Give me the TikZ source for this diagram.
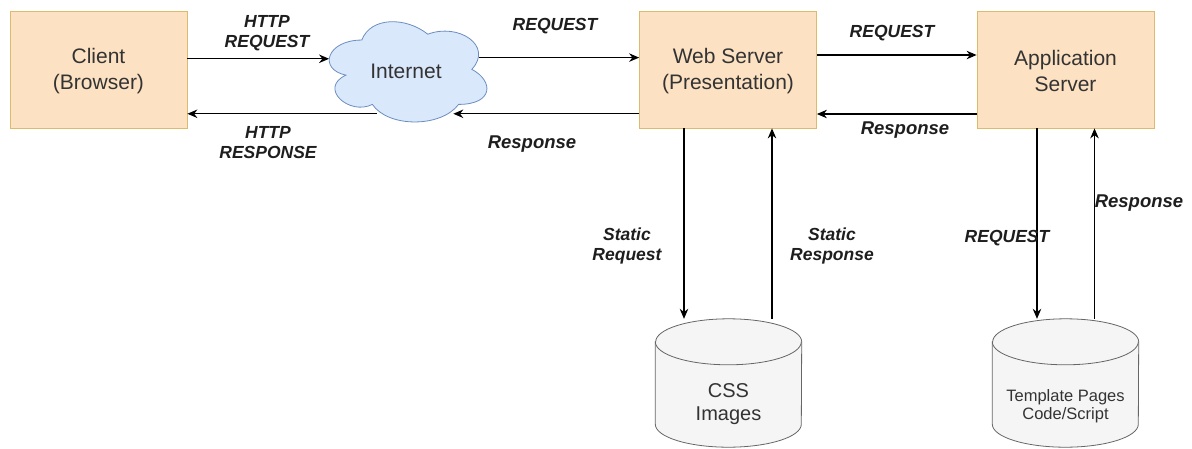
\documentclass[tikz,border=0pt]{standalone}
\usepackage{fontspec}
\setmainfont{Liberation Sans}
\usetikzlibrary{arrows.meta,backgrounds,calc}

\definecolor{boxfill}{HTML}{FCE1C2}
\definecolor{boxline}{HTML}{DDBA6C}
\definecolor{cloudfill}{HTML}{DAE8FC}
\definecolor{cloudline}{HTML}{6C8EBF}
\definecolor{dbfill}{HTML}{F5F5F5}
\definecolor{dbline}{HTML}{666666}
\definecolor{txt}{HTML}{333333}
\definecolor{labtxt}{HTML}{1E1E1E}

\tikzset{
  srv/.style={draw=boxline, fill=boxfill, line width=0.8pt,
    minimum width=177pt, minimum height=117pt, inner sep=0pt,
    align=center, text=txt, font=\fontsize{21}{26}\selectfont},
  area/.style={draw=none, minimum width=#1, minimum height=117pt, inner sep=0pt,
    align=center, text=txt, font=\fontsize{21}{26}\selectfont},
  dbnode/.style={draw=none, minimum width=146pt, minimum height=128pt, inner sep=0pt},
  dbtext/.style={align=center, text=txt, inner sep=0pt},
  arr/.style={draw=black, line width=1.1pt, -{Stealth[length=10pt,width=8.5pt]}},
  lab/.style={align=center, text=labtxt, inner sep=0pt,
    font=\fontsize{17.5}{20}\selectfont\bfseries\itshape},
  labr/.style={lab, font=\fontsize{18.5}{21}\selectfont\bfseries\itshape},
}

\begin{document}
\begin{tikzpicture}[x=1pt, y=-1pt]
\useasboundingbox (0,0) rectangle (1192,448);

% servers
\node[srv] (client) at (98.5,69.5) {\rule{0pt}{19pt}Client\\(Browser)};
\node[srv] (web) at (728,69.5) {\rule{0pt}{19pt}Web Server\\(Presentation)};
\node[srv] (app) at (1065.5,69.5) {\rule{0pt}{19pt}Application\\Server};

% internet cloud
\node[area=176pt] (inet) at (406,69.5) {\rule{0pt}{19pt}Internet};
\begin{scope}[shift={(inet.north west)}, x=176pt, y=-117pt]
  \begin{pgfonlayer}{background}
  \filldraw[fill=cloudfill, draw=cloudline, line width=0.8pt]
    (0.25,0.25) .. controls (0.05,0.25) and (0,0.5) .. (0.16,0.55)
    .. controls (0,0.66) and (0.18,0.9) .. (0.31,0.8)
    .. controls (0.4,1) and (0.7,1) .. (0.8,0.8)
    .. controls (1,0.8) and (1,0.6) .. (0.875,0.5)
    .. controls (1,0.3) and (0.8,0.1) .. (0.625,0.2)
    .. controls (0.5,0.05) and (0.3,0.05) .. (0.25,0.25) -- cycle;
  \end{pgfonlayer}
  \coordinate (inA) at (0.064,0.41);
  \coordinate (inB) at (0.915,0.40);
  \coordinate (inC) at (0.77,0.88);
  \coordinate (inD) at (0.335,0.88);
\end{scope}

% data stores
\node[dbnode] (css) at (728.5,383) {};
\node[dbnode] (tpl) at (1065.5,383) {};
\foreach \db in {css,tpl}{
  \filldraw[fill=dbfill, draw=dbline, line width=0.8pt]
    ([yshift=-23pt]\db.north west) -- ([yshift=23pt]\db.south west)
    arc[start angle=180, end angle=360, x radius=73pt, y radius=23pt]
    -- ([yshift=-23pt]\db.north east)
    arc[start angle=0, end angle=180, x radius=73pt, y radius=23pt] -- cycle;
  \draw[draw=dbline, line width=0.8pt] ([yshift=-23pt]\db.north west)
    arc[start angle=180, end angle=360, x radius=73pt, y radius=23pt];
}
\node[dbtext, font=\fontsize{20}{23}\selectfont] (csstext)
  at ([yshift=-21pt]css.center) {CSS\\Images};
\node[dbtext, font=\fontsize{16.5}{18.5}\selectfont] (tpltext)
  at ([yshift=-23pt]tpl.center) {Template Pages\\Code/Script};

% client <-> internet
\draw[arr] (client.east |- inA) -- (inA);
\draw[arr] (inD) -- (client.east |- inD);
\node[lab] (l1) at (267,33) {HTTP\\REQUEST};
\node[lab] (l2) at (268,143) {HTTP\\RESPONSE};

% internet <-> web server
\draw[arr] (inB) -- (web.west |- inB);
\draw[arr] (web.west |- inC) -- (inC);
\node[lab] (l3) at (555,26) {REQUEST};
\node[labr] (l4) at (532,144) {Response};

% web server <-> application server
\draw[arr] ([yshift=14.5pt]web.east) -- ([yshift=14.5pt]app.west);
\draw[arr] ([yshift=-44.5pt]app.west) -- ([yshift=-44.5pt]web.east);
\node[lab] (l5) at (892,33) {REQUEST};
\node[labr] (l6) at (905,130) {Response};

% web server <-> static files
\coordinate (wd) at ([xshift=-44pt]web.south);
\coordinate (wu) at ([xshift=44pt]web.south);
\draw[arr] (wd) -- (wd |- css.north);
\draw[arr] (wu |- css.north) -- (wu);
\node[lab] (l7) at (627,246) {Static\\Request};
\node[lab] (l8) at (832,246) {Static\\Response};

% application server <-> templates
\coordinate (ad) at ([xshift=-28.5pt]app.south);
\coordinate (au) at ([xshift=29pt]app.south);
\draw[arr] (ad) -- (ad |- tpl.north);
\draw[arr] (au |- tpl.north) -- (au);
\node[lab] (l9) at (1007,238) {REQUEST};
\node[labr] (l10) at (1139,203) {Response};
\end{tikzpicture}
\end{document}
